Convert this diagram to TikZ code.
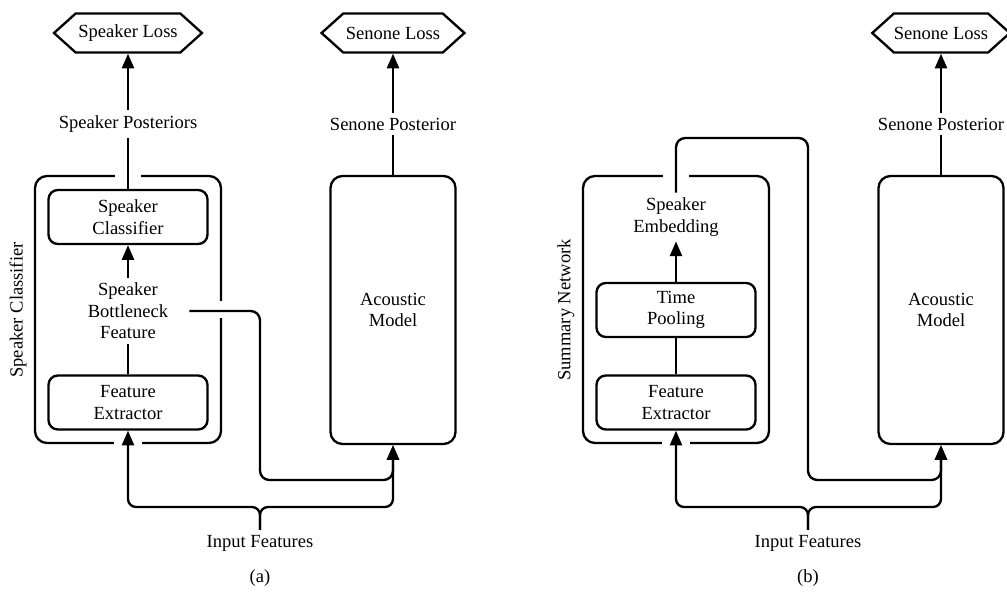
\documentclass[tikz,border=0pt]{standalone}
\usepackage{fontspec}
\setmainfont{Liberation Serif}
\usetikzlibrary{arrows.meta,shapes.symbols}

\tikzset{every picture/.style={line width=1.75pt}}
\tikzset{
  block/.style={draw, rounded corners=7pt, minimum width=119.25pt, minimum height=40.5pt, align=center},
  group/.style={draw, rounded corners=9pt, minimum width=139.5pt, minimum height=200.25pt},
  model/.style={draw, rounded corners=9pt, minimum width=93.75pt, minimum height=201pt, align=center},
  lossbox/.style={draw, shape=signal, signal to=west and east, signal pointer angle=84, inner xsep=2pt, minimum height=29.25pt},
  lbl/.style={align=center, inner sep=3pt},
  arr/.style={-{Triangle[length=11pt,width=9pt]}},
  gapw/.style={draw=white, line width=#1},
}

\begin{document}
\begin{tikzpicture}[x=0.75pt,y=0.75pt,yscale=-1,xscale=1,
  every node/.style={font=\fontsize{13.9}{16.2}\selectfont}]
\useasboundingbox (0,0) rectangle (1007,593);

% (a) speaker classifier
\node[group] (grpA) at (128,309.5) {};
\node[rotate=90] (grpAlbl) at (18,310) {Speaker Classifier};
\draw[gapw=19.5pt] ([yshift=6pt]grpA.north) -- ([yshift=-6pt]grpA.north);
\draw[gapw=12.75pt] ([xshift=-6pt]grpA.east) -- ([xshift=6pt]grpA.east);
\draw[gapw=21pt] ([yshift=6pt]grpA.south) -- ([yshift=-6pt]grpA.south);

\node[block] (scA) at (128,217) {Speaker\\Classifier};
\node[block] (feA) at (128,402.5) {Feature\\Extractor};
\node[lbl, inner xsep=15pt] (bnA) at (128,311) {Speaker\\Bottleneck\\Feature};
\node[lbl] (spA) at (128,124) {Speaker Posteriors};
\node[lossbox] (slA) at (128,33) {Speaker Loss};
\node[model] (amA) at (393,310) {Acoustic\\Model};
\node[lbl] (npA) at (393,124) {Senone Posterior};
\node[lossbox] (nlA) at (393,33) {Senone Loss};
\node[lbl] (inA) at (260,543) {Input Features};
\node (capA) at (260,578) {(a)};

\draw[arr] (spA.north) -- (slA.south);
\draw (spA.south) -- (scA.north);
\draw[arr] (bnA.north) -- (scA.south);
\draw (feA.north) -- (bnA.south);
\draw[arr] (npA.north) -- (nlA.south);
\draw (amA.north) -- (npA.south);

\coordinate (brA) at (260,507);
\coordinate (bnTurnA) at (260,480);
\draw[arr, rounded corners=6pt] (inA.north) -- (brA) -| (feA.south);
\draw[arr, rounded corners=6pt] (inA.north) -- (brA) -| (amA.south);
\draw[arr, rounded corners=7pt] (bnA.east) -| (bnTurnA) -| (amA.south);

% (b) summary network
\node[group] (grpB) at (676,309.5) {};
\node[rotate=90] (grpBlbl) at (566,310) {Summary Network};
\draw[gapw=19.5pt] ([yshift=6pt]grpB.north) -- ([yshift=-6pt]grpB.north);
\draw[gapw=21pt] ([yshift=6pt]grpB.south) -- ([yshift=-6pt]grpB.south);

\node[lbl] (emB) at (676,217) {Speaker\\Embedding};
\node[block] (tpB) at (676,310) {Time\\Pooling};
\node[block] (feB) at (676,402.5) {Feature\\Extractor};
\node[model] (amB) at (941,310) {Acoustic\\Model};
\node[lbl] (npB) at (941,124) {Senone Posterior};
\node[lossbox, inner xsep=0pt] (nlB) at (941,33) {Senone Loss};
\node[lbl] (inB) at (808,543) {Input Features};
\node (capB) at (808,578) {(b)};

\draw[arr] (tpB.north) -- (emB.south);
\draw (feB.north) -- (tpB.south);
\draw[arr] (npB.north) -- (nlB.south);
\draw (amB.north) -- (npB.south);

\coordinate (brB) at (808,507);
\coordinate (embTopB) at (808,138);
\coordinate (embTurnB) at (808,480);
\draw[arr, rounded corners=6pt] (inB.north) -- (brB) -| (feB.south);
\draw[arr, rounded corners=6pt] (inB.north) -- (brB) -| (amB.south);
\draw[arr, rounded corners=7pt] (emB.north) |- (embTopB) -- (embTurnB) -| (amB.south);

\end{tikzpicture}
\end{document}
